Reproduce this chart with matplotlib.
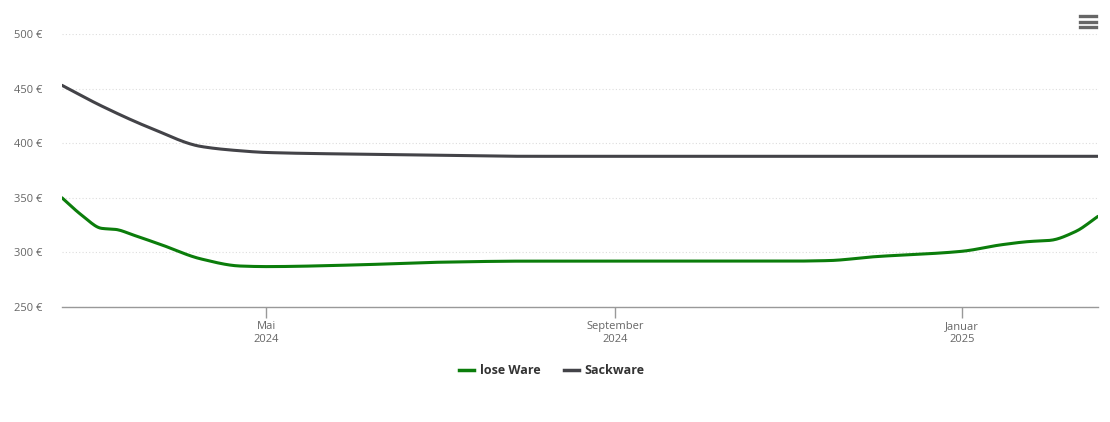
import numpy as np
import matplotlib
matplotlib.use("Agg")
import matplotlib.pyplot as plt
import matplotlib.dates as mdates
from datetime import datetime
from matplotlib.lines import Line2D

plt.rcParams['font.family'] = ['Open Sans', 'DejaVu Sans']

# lose Ware (green)
lose_dates = ["2024-02-19", "2024-02-26", "2024-03-04", "2024-03-09", "2024-03-15",
              "2024-03-25", "2024-04-08", "2024-04-22", "2024-05-01", "2024-06-01",
              "2024-07-01", "2024-08-01", "2024-09-01", "2024-10-01", "2024-11-01",
              "2024-11-15", "2024-12-01", "2025-01-01", "2025-01-15", "2025-01-25",
              "2025-02-01", "2025-02-10", "2025-02-18"]
lose_vals = [350, 334, 322, 321, 316, 307, 294, 287.5, 287, 288.5,
             291, 292, 292, 292, 292, 292.5, 296, 301, 307, 310,
             311, 319, 333]

# Sackware (dark gray)
sack_dates = ["2024-02-19", "2024-03-04", "2024-03-22", "2024-04-08", "2024-04-22",
              "2024-05-01", "2024-06-01", "2024-07-01", "2024-08-01", "2024-09-01",
              "2024-11-01", "2025-01-01", "2025-02-18"]
sack_vals = [453, 434, 413, 397, 393, 391.5, 390, 389, 388, 388,
             388, 388, 388]

tick_dates = ["2024-05-01", "2024-09-01", "2025-01-01"]
tick_labels = ["Mai\n2024", "September\n2024", "Januar\n2025"]
y_ticks = [250, 300, 350, 400, 450, 500]

to_dt = lambda lst: [datetime.strptime(d, "%Y-%m-%d") for d in lst]


def smooth(x, y, n=600):
    # monotone cubic (pchip-like) curve through the points, for drawing only
    x = np.asarray(x, float)
    y = np.asarray(y, float)
    h = np.diff(x)
    d = np.diff(y) / h
    m = np.zeros_like(y)
    for i in range(1, len(y) - 1):
        if d[i-1] * d[i] > 0:
            w1 = 2*h[i] + h[i-1]
            w2 = h[i] + 2*h[i-1]
            m[i] = (w1 + w2) / (w1/d[i-1] + w2/d[i])
    m[0], m[-1] = d[0], d[-1]
    xs = np.linspace(x[0], x[-1], n)
    k = np.clip(np.searchsorted(x, xs) - 1, 0, len(x) - 2)
    t = (xs - x[k]) / h[k]
    h00 = 2*t**3 - 3*t**2 + 1
    h10 = t**3 - 2*t**2 + t
    h01 = -2*t**3 + 3*t**2
    h11 = t**3 - t**2
    ys = h00*y[k] + h10*h[k]*m[k] + h01*y[k+1] + h11*h[k]*m[k+1]
    return xs, ys


fig = plt.figure(figsize=(11.1, 4.22), dpi=100)
ax = fig.add_axes([62/1110, (422-307)/422, (1098-62)/1110, (307-34)/422])

lx, ly = smooth(mdates.date2num(to_dt(lose_dates)), lose_vals)
sx, sy = smooth(mdates.date2num(to_dt(sack_dates)), sack_vals)
ax.plot(lx, ly, color="#0b7d0b", lw=2.2, solid_capstyle="round")
ax.plot(sx, sy, color="#434348", lw=2.2, solid_capstyle="round")

ax.set_xlim(mdates.date2num(datetime(2024, 2, 19)), mdates.date2num(datetime(2025, 2, 18)))
ax.set_ylim(250, 500)
ax.set_yticks(y_ticks)
ax.set_yticklabels([f"{v} €" for v in y_ticks], fontsize=8, color="#666666")
ax.set_xticks(mdates.date2num(to_dt(tick_dates)))
ax.set_xticklabels(tick_labels, fontsize=8, color="#666666", linespacing=1.3)

ax.grid(axis="y", color="#dddddd", lw=0.8, linestyle=(0, (1, 2)))
ax.set_axisbelow(True)
for s in ["top", "right", "left"]:
    ax.spines[s].set_visible(False)
ax.spines["bottom"].set_color("#999999")
ax.spines["bottom"].set_linewidth(1.0)
ax.tick_params(axis="y", length=0, pad=14)
ax.tick_params(axis="x", length=8, color="#999999", width=1, pad=2)

handles = [Line2D([0], [0], color="#0b7d0b", lw=2.5),
           Line2D([0], [0], color="#434348", lw=2.5)]
leg = fig.legend(handles, ["lose Ware", "Sackware"], loc="center",
                 bbox_to_anchor=(552/1110, 1-371/422), ncol=2, frameon=False,
                 prop={"size": 9, "weight": "bold"}, handlelength=1.2,
                 columnspacing=1.8, handletextpad=0.5)
for t in leg.get_texts():
    t.set_color("#333333")

# menu icon
for yy in [16, 21.5, 27]:
    fig.add_artist(Line2D([1080/1110, 1096/1110], [1-yy/422, 1-yy/422],
                          color="#666666", lw=2.4))

fig.savefig("out.png", dpi=100)
